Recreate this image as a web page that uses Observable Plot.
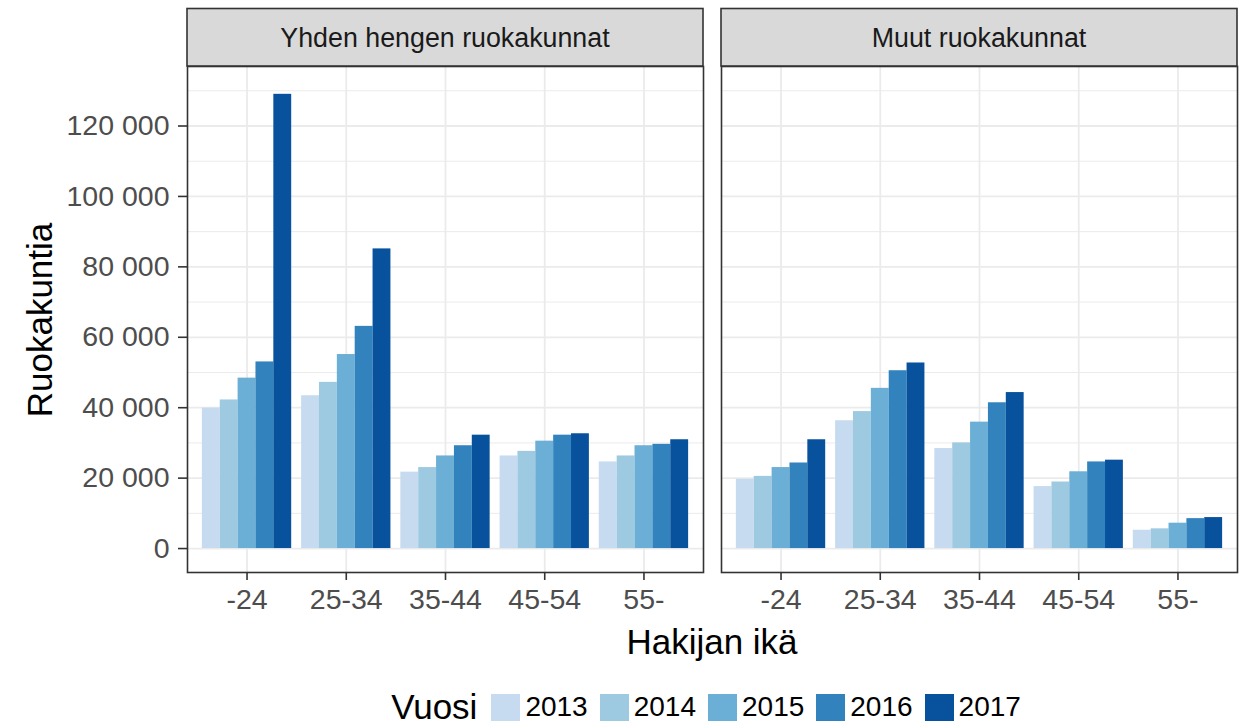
<!DOCTYPE html>
<html>
<head>
<meta charset="utf-8">
<script src="https://cdn.jsdelivr.net/npm/d3@7"></script>
<script src="https://cdn.jsdelivr.net/npm/@observablehq/plot@0.6"></script>
<style>
  html, body { margin: 0; padding: 0; background: #fff; }
  body { width: 1248px; height: 724px; overflow: hidden; font-family: "Liberation Sans", Arial, sans-serif; }
  #legend { height: 44px; box-sizing: border-box; padding-top: 10px; display: flex; align-items: center; justify-content: center; padding-left: 176px; line-height: 1; }
  #legend .title { font-size: 35px; line-height: 34px; color: #000; margin-right: 14px; }
  #legend .sw { width: 29px; height: 27px; margin-right: 5px; }
  #legend .lab { font-size: 28px; line-height: 30px; color: #000; margin-right: 12px; }
</style>
</head>
<body>
<div id="chart"></div>
<div id="legend"></div>
<script>
// ---- data ----
const panels = ["Yhden hengen ruokakunnat", "Muut ruokakunnat"];
const ages = ["-24", "25-34", "35-44", "45-54", "55-"];
const years = ["2013", "2014", "2015", "2016", "2017"];
const colors = ["#c6dbef", "#9ecae1", "#6baed6", "#3182bd", "#08519c"];

// rows: years 2013..2017, columns: ages
const yhdenValues = [
  [39900, 43400, 21700, 26300, 24600],
  [42200, 47200, 23000, 27600, 26300],
  [48400, 55100, 26300, 30500, 29200],
  [53000, 63100, 29200, 32200, 29600],
  [129000, 85100, 32200, 32600, 30900]
];
const muutValues = [
  [19700, 36300, 28400, 17600, 5200],
  [20500, 38900, 30000, 18900, 5600],
  [23000, 45500, 35900, 21800, 7200],
  [24300, 50500, 41400, 24600, 8500],
  [30900, 52700, 44300, 25100, 8800]
];
const yTicks = [0, 20000, 40000, 60000, 80000, 100000, 120000];
const yMinor = [10000, 30000, 50000, 70000, 90000, 110000, 130000];

// ---- table ----
const rows = [];
[yhdenValues, muutValues].forEach((vals, p) => {
  vals.forEach((row, yi) => {
    row.forEach((v, ai) => {
      rows.push({panel: panels[p], age: ages[ai], ai, year: years[yi], yi, value: v});
    });
  });
});

const groupWidth = 0.9;
const barW = groupWidth / years.length;
const fmt = d => d3.format(",")(d).replace(/,/g, " ");

const chart = Plot.plot({
  width: 1248,
  height: 680,
  marginLeft: 186,
  marginRight: 10,
  marginTop: 66,
  marginBottom: 108,
  style: {fontFamily: '"Liberation Sans", Arial, sans-serif', fontSize: "28.5px", background: "#fff"},
  fx: {domain: panels, axis: null, paddingInner: 0.0336, paddingOuter: 0},
  x: {domain: [-0.6, ages.length - 0.4], axis: null},
  y: {domain: [-6800, 136900], axis: null},
  color: {domain: years, range: colors},
  marks: [
    Plot.gridY(yMinor, {stroke: "#ebebeb", strokeOpacity: 1, strokeWidth: 1}),
    Plot.gridY(yTicks, {stroke: "#ebebeb", strokeOpacity: 1, strokeWidth: 1.8}),
    Plot.gridX(d3.range(ages.length), {stroke: "#ebebeb", strokeOpacity: 1, strokeWidth: 1.8}),
    Plot.rectY(rows, {
      fx: "panel",
      x1: d => d.ai - groupWidth / 2 + d.yi * barW,
      x2: d => d.ai - groupWidth / 2 + (d.yi + 1) * barW,
      y: "value",
      fill: "year"
    }),
    Plot.frame({stroke: "#333", strokeWidth: 1.6}),
    Plot.axisY(yTicks, {tickFormat: fmt, tickSize: 9, tickPadding: 9, fill: "#4d4d4d", stroke: "#333", strokeWidth: 1.6, label: null}),
    Plot.axisX(d3.range(ages.length), {tickFormat: i => ages[i], tickSize: 8, tickPadding: 8, fill: "#4d4d4d", stroke: "#333", strokeWidth: 1.6, label: null})
  ]
});

document.getElementById("chart").appendChild(chart);

// strips, axis titles
const svg = d3.select(chart);
const fx = chart.scale("fx");
const bw = fx.bandwidth;
const stripTop = 8.5;
panels.forEach(p => {
  const x0 = fx.apply(p);
  svg.append("rect")
    .attr("x", x0).attr("y", stripTop)
    .attr("width", bw).attr("height", 66 - stripTop)
    .attr("fill", "#d9d9d9").attr("stroke", "#333").attr("stroke-width", 1.6);
  svg.append("text")
    .attr("x", x0 + bw / 2).attr("y", 47)
    .attr("text-anchor", "middle")
    .attr("fill", "#1a1a1a")
    .style("font-size", "26.8px")
    .text(p);
});
const xMid = (fx.apply(panels[0]) + fx.apply(panels[1]) + bw) / 2;
svg.append("text")
  .attr("x", xMid).attr("y", 654)
  .attr("text-anchor", "middle")
  .attr("fill", "#000")
  .style("font-size", "35px")
  .text("Hakijan ikä");
svg.append("text")
  .attr("transform", "translate(52,320) rotate(-90)")
  .attr("text-anchor", "middle")
  .attr("fill", "#000")
  .style("font-size", "35px")
  .text("Ruokakuntia");

// legend
const legend = d3.select("#legend");
legend.append("span").attr("class", "title").text("Vuosi");
years.forEach((y, i) => {
  legend.append("span").attr("class", "sw").style("background", colors[i]);
  legend.append("span").attr("class", "lab").text(y);
});
</script>
</body>
</html>
